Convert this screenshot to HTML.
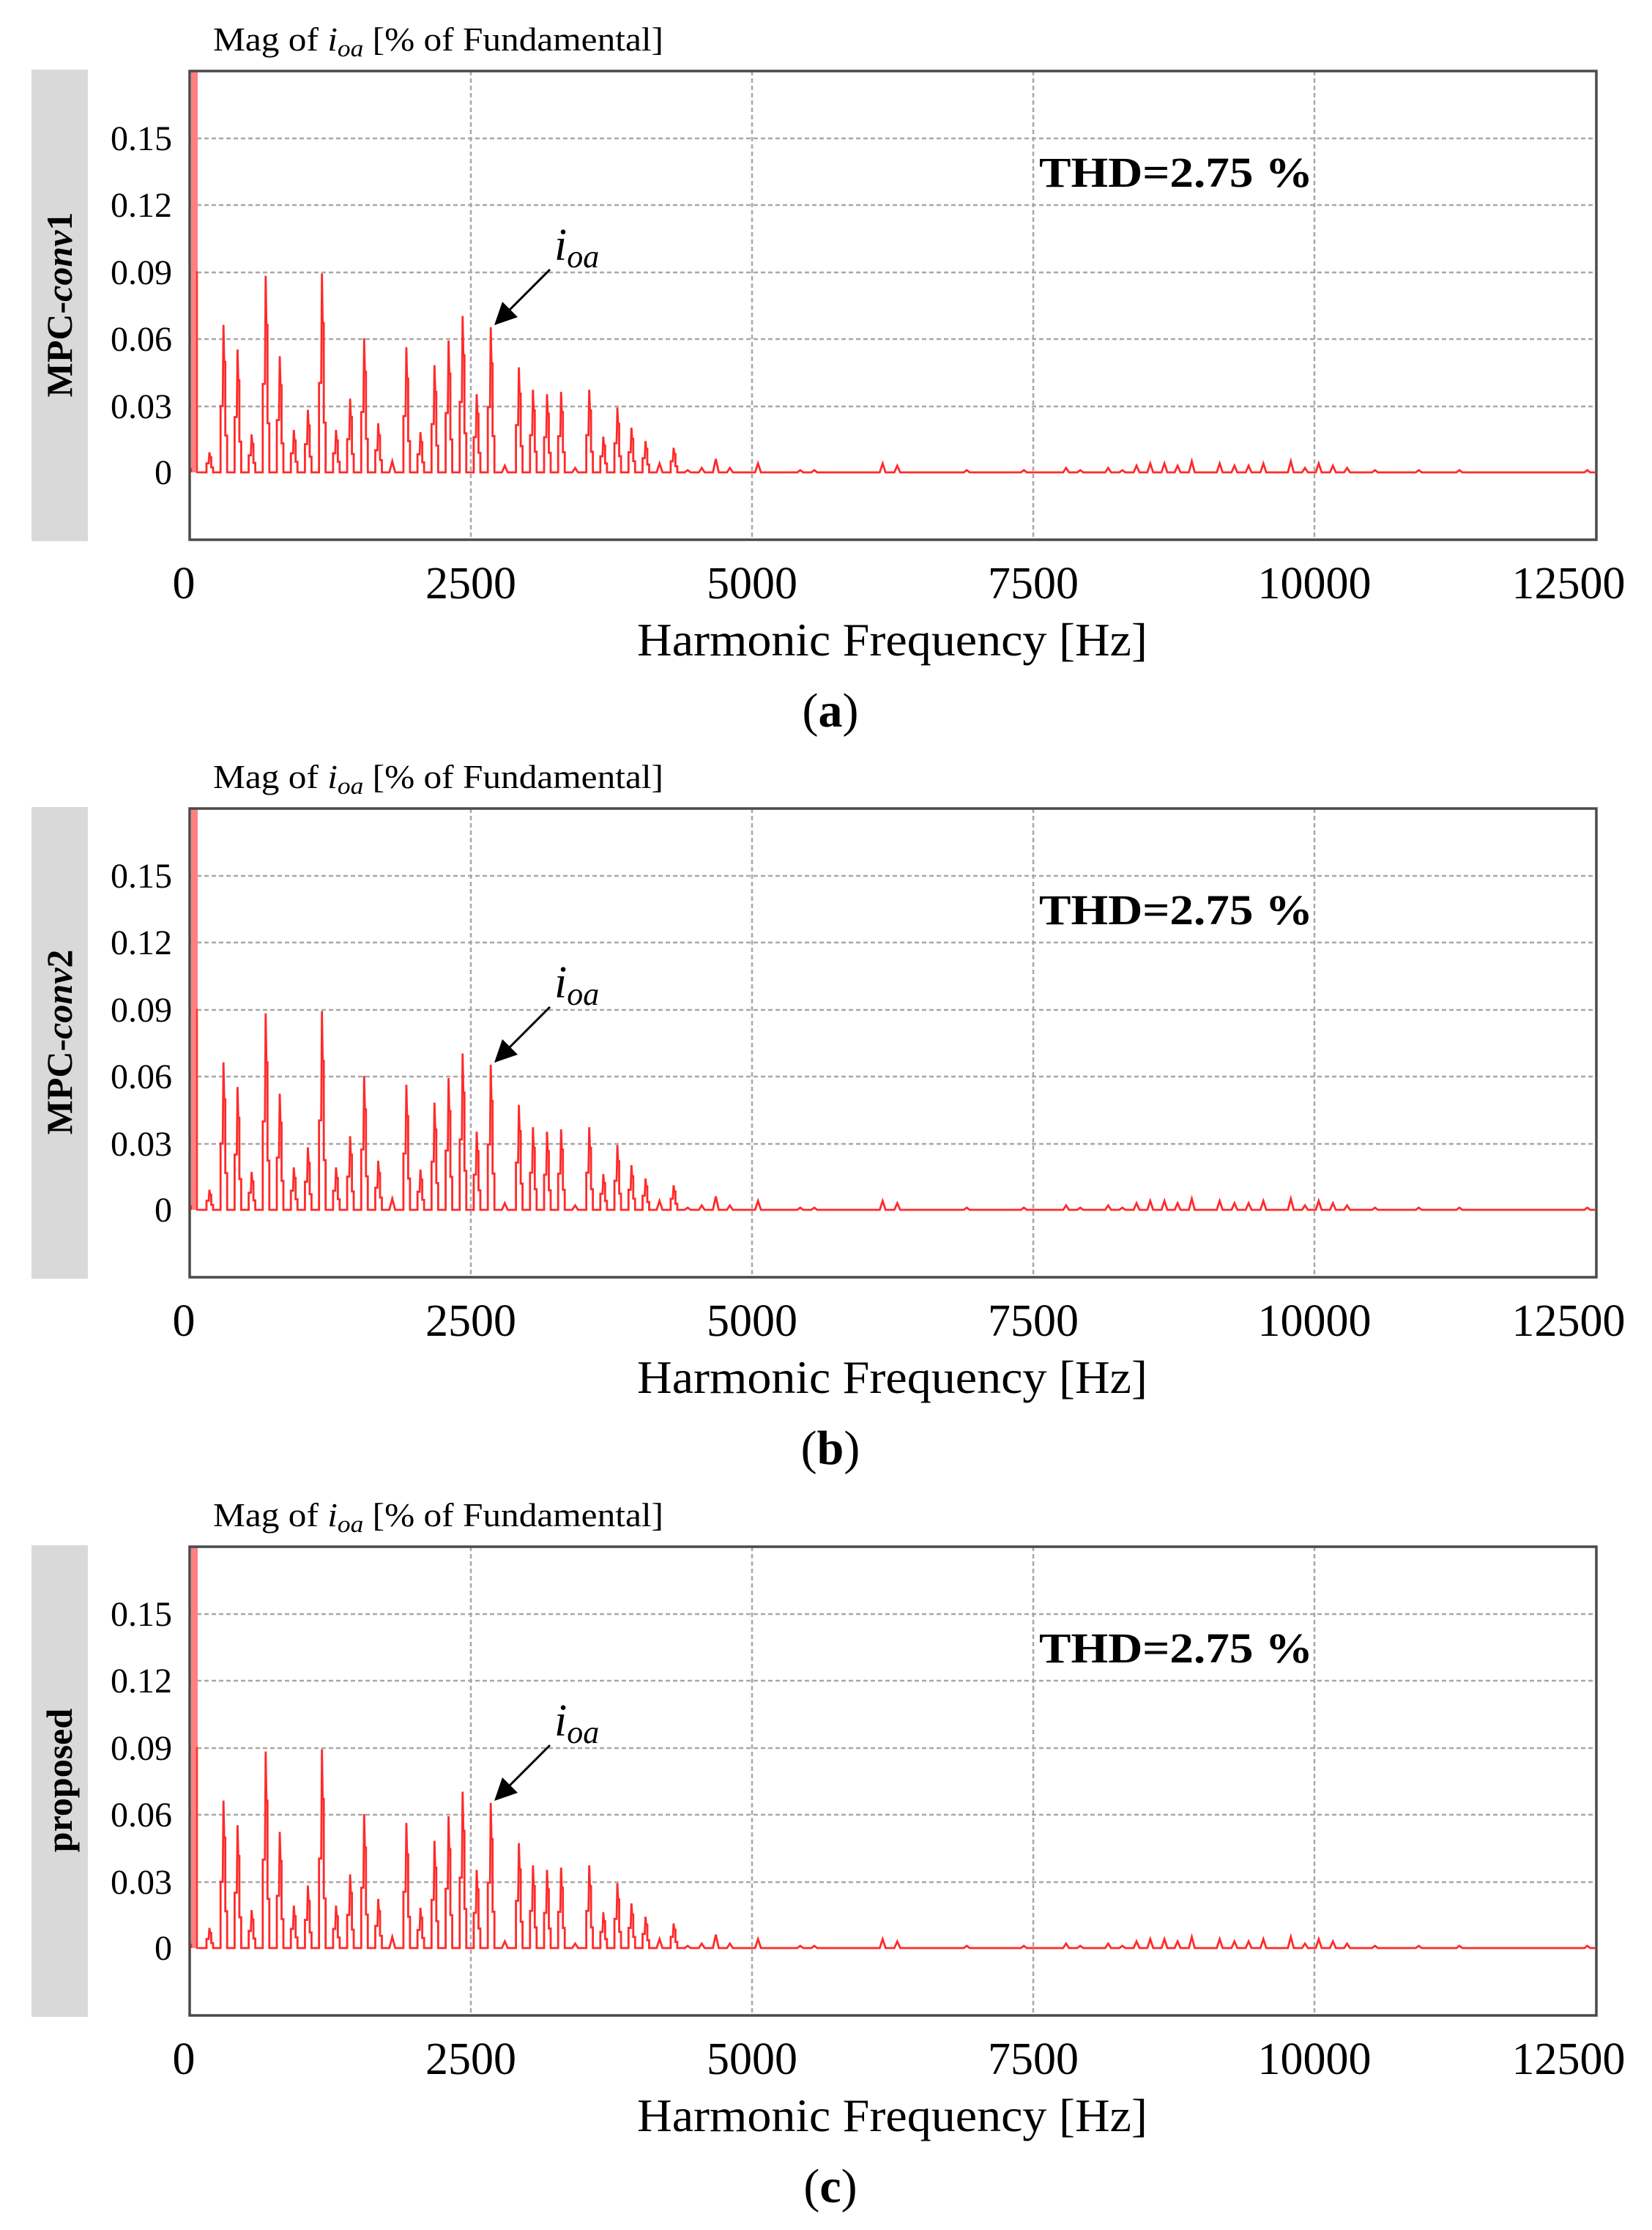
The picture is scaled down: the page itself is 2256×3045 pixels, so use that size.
<!DOCTYPE html>
<html><head><meta charset="utf-8"><style>
html,body{margin:0;padding:0;background:#fff;}
svg{display:block;}
text{font-family:"Liberation Serif",serif;fill:#000;}
</style></head><body>
<svg id="s" width="2256" height="3045" viewBox="0 0 2256 3045" xmlns="http://www.w3.org/2000/svg">
<defs>
<g id="grid">
  <g stroke="#a8a8a8" stroke-width="2.5" stroke-dasharray="6 4" fill="none">
    <line x1="643" y1="97" x2="643" y2="737"/>
    <line x1="1027" y1="97" x2="1027" y2="737"/>
    <line x1="1411" y1="97" x2="1411" y2="737"/>
    <line x1="1795" y1="97" x2="1795" y2="737"/>
    <line x1="259" y1="189" x2="2180" y2="189"/>
    <line x1="259" y1="280" x2="2180" y2="280"/>
    <line x1="259" y1="372" x2="2180" y2="372"/>
    <line x1="259" y1="463" x2="2180" y2="463"/>
    <line x1="259" y1="555" x2="2180" y2="555"/>
  </g>
</g>
</defs>

<g id="pa"></g>
<g id="pb" transform="translate(0,1007)"></g>
<g id="pc" transform="translate(0,2015)"></g>

<g>
<rect x="43" y="95" width="77" height="644" fill="#d9d9d9"/>
<text transform="translate(98,416) rotate(-90)" text-anchor="middle" font-size="50" font-weight="bold">MPC-<tspan font-style="italic">conv</tspan>1</text>
<text x="291" y="69" font-size="46" textLength="615" lengthAdjust="spacingAndGlyphs">Mag of <tspan font-style="italic">i</tspan><tspan font-style="italic" font-size="33" dy="8">oa</tspan><tspan dy="-8"> [% of Fundamental]</tspan></text>
<text x="1419" y="255" font-size="58" font-weight="bold" textLength="374" lengthAdjust="spacingAndGlyphs">THD=2.75 %</text>
<text x="757" y="355" font-size="62" font-style="italic">i<tspan font-size="44" dy="10">oa</tspan></text>
<g font-size="48" text-anchor="end">
<text x="235" y="205">0.15</text><text x="235" y="296">0.12</text><text x="235" y="388">0.09</text><text x="235" y="479">0.06</text><text x="235" y="571">0.03</text><text x="235" y="661">0</text>
</g>
<g font-size="62" text-anchor="middle">
<text x="251" y="817">0</text><text x="643" y="817">2500</text><text x="1027" y="817">5000</text><text x="1411" y="817">7500</text><text x="1795" y="817">10000</text><text x="2142" y="817">12500</text>
</g>
<text x="870" y="895" font-size="64" textLength="697" lengthAdjust="spacingAndGlyphs">Harmonic Frequency [Hz]</text>
<text x="1134" y="992" font-size="66" text-anchor="middle">(<tspan font-weight="bold">a</tspan>)</text>
</g>

<g transform="translate(0,1007)">
<rect x="43" y="95" width="77" height="644" fill="#d9d9d9"/>
<text transform="translate(98,416) rotate(-90)" text-anchor="middle" font-size="50" font-weight="bold">MPC-<tspan font-style="italic">conv</tspan>2</text>
<text x="291" y="69" font-size="46" textLength="615" lengthAdjust="spacingAndGlyphs">Mag of <tspan font-style="italic">i</tspan><tspan font-style="italic" font-size="33" dy="8">oa</tspan><tspan dy="-8"> [% of Fundamental]</tspan></text>
<text x="1419" y="255" font-size="58" font-weight="bold" textLength="374" lengthAdjust="spacingAndGlyphs">THD=2.75 %</text>
<text x="757" y="355" font-size="62" font-style="italic">i<tspan font-size="44" dy="10">oa</tspan></text>
<g font-size="48" text-anchor="end">
<text x="235" y="205">0.15</text><text x="235" y="296">0.12</text><text x="235" y="388">0.09</text><text x="235" y="479">0.06</text><text x="235" y="571">0.03</text><text x="235" y="661">0</text>
</g>
<g font-size="62" text-anchor="middle">
<text x="251" y="817">0</text><text x="643" y="817">2500</text><text x="1027" y="817">5000</text><text x="1411" y="817">7500</text><text x="1795" y="817">10000</text><text x="2142" y="817">12500</text>
</g>
<text x="870" y="895" font-size="64" textLength="697" lengthAdjust="spacingAndGlyphs">Harmonic Frequency [Hz]</text>
<text x="1134" y="992" font-size="66" text-anchor="middle">(<tspan font-weight="bold">b</tspan>)</text>
</g>

<g transform="translate(0,2015)">
<rect x="43" y="95" width="77" height="644" fill="#d9d9d9"/>
<text transform="translate(98,416) rotate(-90)" text-anchor="middle" font-size="50" font-weight="bold">proposed</text>
<text x="291" y="69" font-size="46" textLength="615" lengthAdjust="spacingAndGlyphs">Mag of <tspan font-style="italic">i</tspan><tspan font-style="italic" font-size="33" dy="8">oa</tspan><tspan dy="-8"> [% of Fundamental]</tspan></text>
<text x="1419" y="255" font-size="58" font-weight="bold" textLength="374" lengthAdjust="spacingAndGlyphs">THD=2.75 %</text>
<text x="757" y="355" font-size="62" font-style="italic">i<tspan font-size="44" dy="10">oa</tspan></text>
<g font-size="48" text-anchor="end">
<text x="235" y="205">0.15</text><text x="235" y="296">0.12</text><text x="235" y="388">0.09</text><text x="235" y="479">0.06</text><text x="235" y="571">0.03</text><text x="235" y="661">0</text>
</g>
<g font-size="62" text-anchor="middle">
<text x="251" y="817">0</text><text x="643" y="817">2500</text><text x="1027" y="817">5000</text><text x="1411" y="817">7500</text><text x="1795" y="817">10000</text><text x="2142" y="817">12500</text>
</g>
<text x="870" y="895" font-size="64" textLength="697" lengthAdjust="spacingAndGlyphs">Harmonic Frequency [Hz]</text>
<text x="1134" y="992" font-size="66" text-anchor="middle">(<tspan font-weight="bold">c</tspan>)</text>
</g>
</svg>
<script>
(function(){
var NS="http://www.w3.org/2000/svg";
function X(f){return 259+f*0.15368;}
function Y(v){return 645-v*3050;}
var low=[[187.5,0.009],[312.5,0.066],[437.5,0.055],[562.5,0.017],[687.5,0.088],[812.5,0.052],[937.5,0.019],[1062.5,0.028],[1187.5,0.089],[1312.5,0.019],[1437.5,0.033],[1562.5,0.060],[1687.5,0.022],[1812.5,0.005],[1937.5,0.056],[2062.5,0.018],[2187.5,0.048],[2312.5,0.059],[2437.5,0.070],[2562.5,0.035],[2687.5,0.065],[2812.5,0.003],[2937.5,0.047],[3062.5,0.037],[3187.5,0.035],[3312.5,0.036],[3437.5,0.002],[3562.5,0.037],[3687.5,0.016],[3812.5,0.029],[3937.5,0.020],[4062.5,0.014],[4187.5,0.004],[4312.5,0.011],[4437.5,0.001],[4562.5,0.002],[4687.5,0.006],[4812.5,0.002],[5062.5,0.004],[5437.5,0.001],[5562.5,0.001],
[6170,0.004],[6300,0.003],[6917,0.001],[7425,0.001],[7800,0.002],[7926,0.001],[8174,0.002],[8300,0.001],[8426,0.003],[8548,0.004],[8674,0.004],[8791,0.003],[8917,0.005],[9165,0.004],[9296,0.003],[9422,0.003],[9553,0.004],[9797,0.005],[9923,0.002],[10045,0.004],[10171,0.003],[10297,0.002],[10545,0.001],[10934,0.001],[11295,0.001],[12432,0.001]];
var d="M272,"+Y(0);
low.forEach(function(p){
  var x=X(p[0]-12), h=p[1];
  if(h<0.007){
    d+=" L"+(x-4)+","+Y(0)+" L"+x+","+Y(h)+" L"+(x+4)+","+Y(0);
  } else {
    d+=" L"+(x-4)+","+Y(0)+" L"+(x-4)+","+Y(0.45*h)+" L"+(x-1)+","+Y(0.45*h)+" L"+x+","+Y(h)+" L"+(x+1)+","+Y(0.75*h)+" L"+(x+2.5)+","+Y(0.75*h)+" L"+(x+2.5)+","+Y(0.25*h)+" L"+(x+5)+","+Y(0.25*h)+" L"+(x+5)+","+Y(0);
  }
});
d+=" L2178,"+Y(0);
["pa","pb","pc"].forEach(function(id){
  var g=document.getElementById(id);
  var u=document.createElementNS(NS,"use");u.setAttribute("href","#grid");g.appendChild(u);
  var r=document.createElementNS(NS,"rect");
  r.setAttribute("x",261);r.setAttribute("y",98);r.setAttribute("width",9);r.setAttribute("height",Y(0)-98);r.setAttribute("fill","#ff8080");g.appendChild(r);
  var l=document.createElementNS(NS,"path");
  l.setAttribute("d","M261,"+Y(0)+" L261,"+Y(0.002)+" M269,"+Y(0.09)+" L269,"+Y(0)+" L272,"+Y(0));
  l.setAttribute("stroke","#ff3030");l.setAttribute("stroke-width","2.5");l.setAttribute("fill","none");g.appendChild(l);
  var p=document.createElementNS(NS,"path");
  p.setAttribute("d",d);p.setAttribute("stroke","#ff2a2a");p.setAttribute("stroke-width","2.8");p.setAttribute("fill","none");p.setAttribute("stroke-linejoin","miter");
  g.appendChild(p);
  var fr=document.createElementNS(NS,"rect");
  fr.setAttribute("x",259);fr.setAttribute("y",97);fr.setAttribute("width",1921);fr.setAttribute("height",640);
  fr.setAttribute("fill","none");fr.setAttribute("stroke","#4a4a4a");fr.setAttribute("stroke-width","3.5");g.appendChild(fr);
  var a=document.createElementNS(NS,"line");
  a.setAttribute("x1",751);a.setAttribute("y1",368);a.setAttribute("x2",692);a.setAttribute("y2",427);
  a.setAttribute("stroke","#000");a.setAttribute("stroke-width","3");g.appendChild(a);
  var ah=document.createElementNS(NS,"polygon");
  ah.setAttribute("points","675,444 686,412 707,433");ah.setAttribute("fill","#000");g.appendChild(ah);
});
})();
</script>
</body></html>
